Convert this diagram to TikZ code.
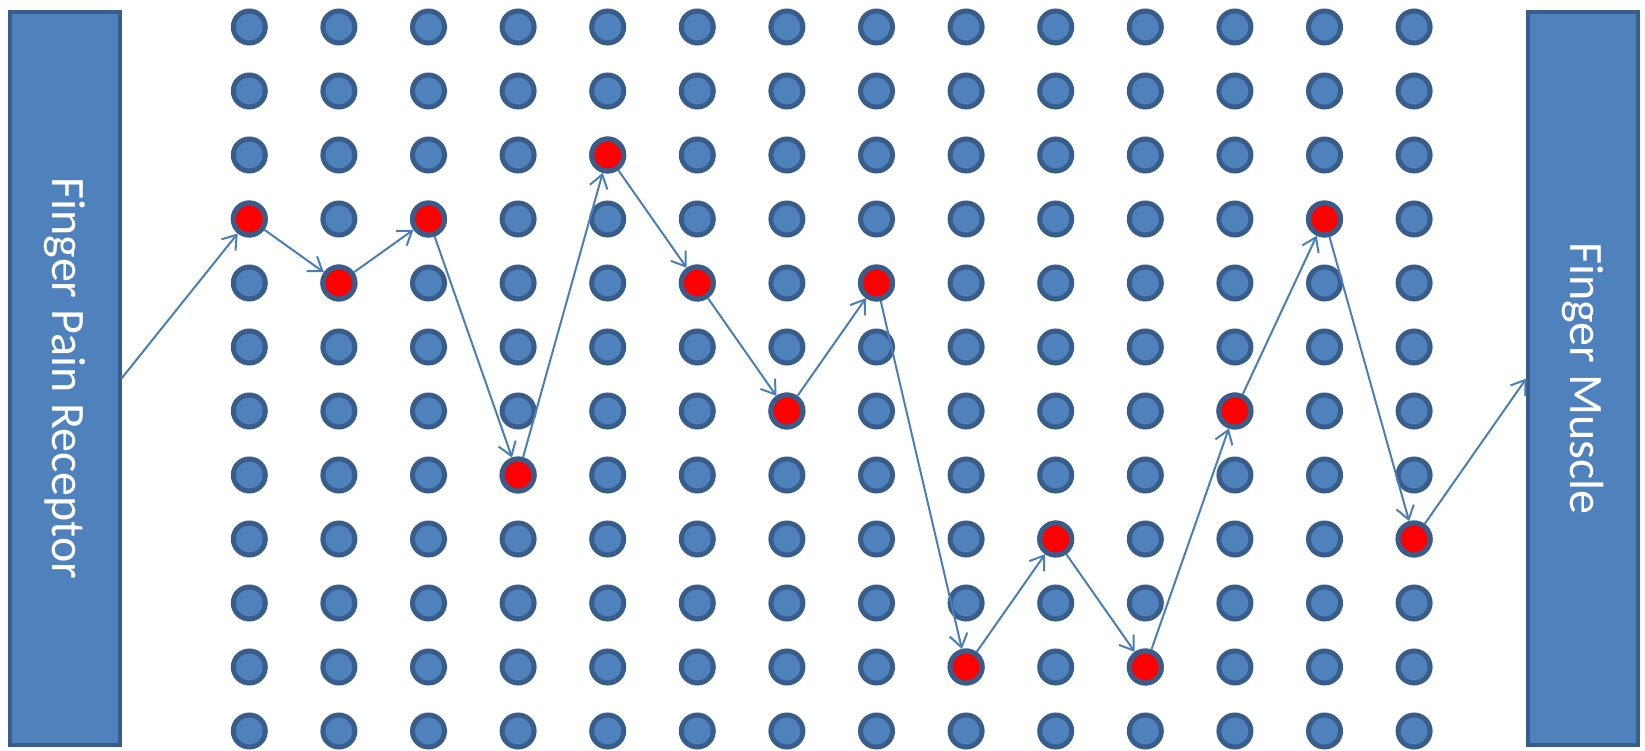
\documentclass[tikz,border=0pt]{standalone}
\usepackage{fontspec}
\setmainfont{Carlito}
\usepackage{tikz}
\usetikzlibrary{arrows.meta}
\definecolor{cellfill}{HTML}{4F81BD}
\definecolor{cellline}{HTML}{385D8A}
\definecolor{linkblue}{HTML}{4A7EBB}

\begin{document}
\begin{tikzpicture}[x=1pt, y=-1pt,
      cell/.style={circle, draw=cellline, fill=cellfill, line width=5pt,
                   minimum size=32pt, inner sep=0pt},
      fired/.style={cell, fill=red},
      organ/.style={draw=cellline, fill=cellfill, line width=4pt,
                    minimum width=110pt, minimum height=733pt, inner sep=0pt},
      organtext/.style={rotate=-90, text=white, font=\fontsize{48}{58}\selectfont},
      link/.style={draw=linkblue, line width=2pt,
                   -{Straight Barb[length=13pt, width=18pt, line width=2pt]}}]
    \useasboundingbox (0,0) rectangle (1645,751);
    \node[organ] (receptor) at (64.5,378.5) {};
    \node[organtext] (receptortext) at (receptor) {Finger Pain Receptor};
    \node[organ] (muscle) at (1583.3,378.5) {};
    \node[organtext] (muscletext) at (muscle) {Finger Muscle};
    % the grid of neurons
    \foreach \c in {0,...,13}
      \foreach \r in {0,...,11}
        \node[cell] (n-\c-\r) at ({249.3+89.6*\c}, {27+64*\r}) {};
    % the ones that fire
    \foreach \c/\r in {0/3,1/4,2/3,3/7,4/2,5/4,6/6,7/4,8/10,9/8,10/10,11/6,12/3,13/8}
      \node[fired] (p\c) at (n-\c-\r) {};
    \draw[link] (receptor.east) -- (p0);
    \foreach \c [evaluate=\c as \n using int(\c+1)] in {0,...,12}
      \draw[link] (p\c) -- (p\n);
    \draw[link] (p13) -- (muscle.west);
  \end{tikzpicture}
\end{document}
